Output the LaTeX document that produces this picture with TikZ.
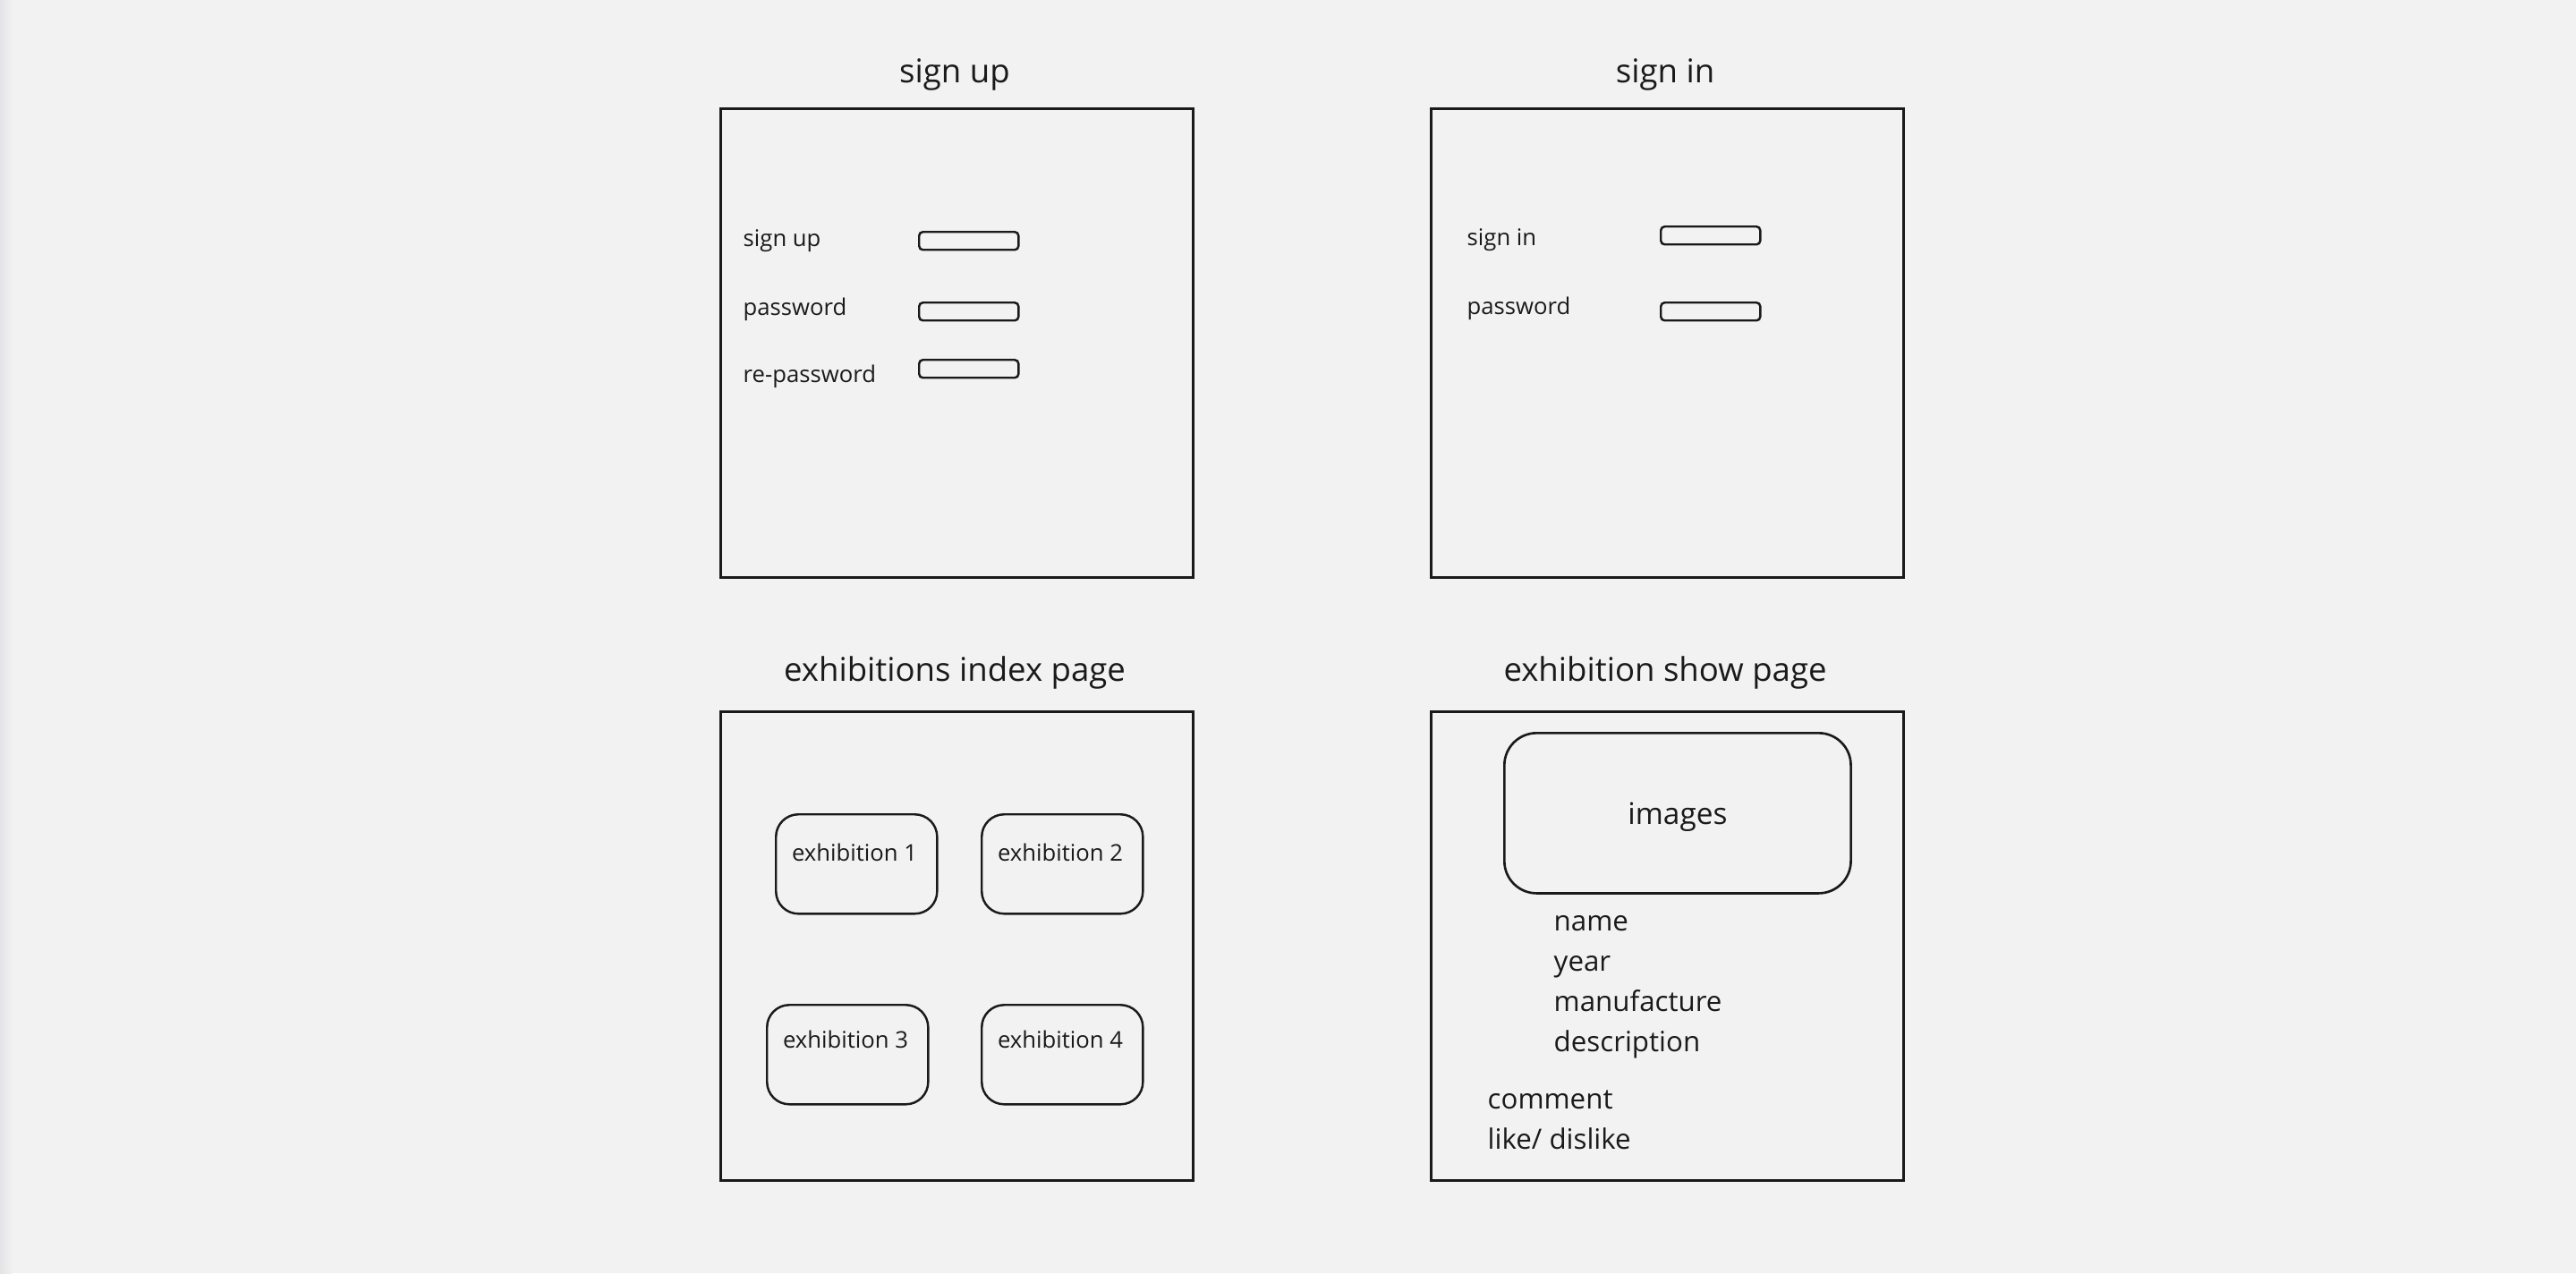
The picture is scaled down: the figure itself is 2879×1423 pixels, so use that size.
\documentclass[tikz,border=0pt]{standalone}
\usepackage{fontspec}
\setmainfont{Open Sans}
\definecolor{inkc}{HTML}{1A1A1A}
\definecolor{bgc}{HTML}{F2F2F2}
\definecolor{edgec}{HTML}{E4E4E7}
\begin{document}
\begin{tikzpicture}[x=0.01cm,y=-0.01cm,
  every node/.style={text=inkc, inner sep=0pt},
  pagebox/.style={draw=inkc, line width=0.8pt, rectangle, anchor=north west,
    minimum width=5.28cm, minimum height=5.24cm},
  field/.style={draw=inkc, line width=0.7pt, rectangle, rounded corners=1.2pt,
    anchor=north west, minimum width=1.11cm, minimum height=0.20cm},
  card/.style={draw=inkc, line width=0.7pt, rectangle, rounded corners=0.25cm,
    anchor=north west, minimum width=1.80cm, minimum height=1.11cm},
  pagetitle/.style={font=\fontsize{10.4pt}{12pt}\selectfont, anchor=base},
  formlabel/.style={font=\fontsize{7.3pt}{9pt}\selectfont, anchor=base west},
  cardlabel/.style={font=\fontsize{7.3pt}{9pt}\selectfont, anchor=base},
  detail/.style={font=\fontsize{8.9pt}{11pt}\selectfont, anchor=base west},
]
% canvas
\fill[bgc] (0,0) rectangle (2879,1423);
\shade[left color=edgec, right color=bgc] (0,0) rectangle (14,1423);
\useasboundingbox (0,0) rectangle (2879,1423);

% ---- sign up page ----
\node[pagetitle] (signupTitle) at (1067,92) {sign up};
\node[pagebox] (signupPage) at (804,120) {};
\node[formlabel] (suUser) at (830,275) {sign up};
\node[formlabel] (suPass) at (830,352) {password};
\node[formlabel] (suRepass) at (830,427) {re-password};
\node[field] (suUserField) at (1026,258) {};
\node[field] (suPassField) at (1026,337) {};
\node[field] (suRepassField) at (1026,401) {};

% ---- sign in page ----
\node[pagetitle] (signinTitle) at (1861,92) {sign in};
\node[pagebox] (signinPage) at (1598,120) {};
\node[formlabel] (siUser) at (1639,274) {sign in};
\node[formlabel] (siPass) at (1639,351) {password};
\node[field] (siUserField) at (1855,252) {};
\node[field] (siPassField) at (1855,337) {};

% ---- exhibitions index page ----
\node[pagetitle] (indexTitle) at (1067,761) {exhibitions index page};
\node[pagebox] (indexPage) at (804,794) {};
\node[card] (ex1) at (866,909) {};
\node[card] (ex2) at (1096,909) {};
\node[card] (ex3) at (856,1122) {};
\node[card] (ex4) at (1096,1122) {};
\node[cardlabel] (ex1Label) at (955,962) {exhibition 1};
\node[cardlabel] (ex2Label) at (1185,962) {exhibition 2};
\node[cardlabel] (ex3Label) at (945,1171) {exhibition 3};
\node[cardlabel] (ex4Label) at (1185,1171) {exhibition 4};

% ---- exhibition show page ----
\node[pagetitle] (showTitle) at (1861,761) {exhibition show page};
\node[pagebox] (showPage) at (1598,794) {};
\node[draw=inkc, line width=0.75pt, rectangle, rounded corners=0.36cm,
  anchor=north west, minimum width=3.87cm, minimum height=1.79cm,
  text depth=-0.05cm,
  font=\fontsize{9.5pt}{11pt}\selectfont] (images) at (1680,818) {images};
\node[detail] (name) at (1736,1040) {name};
\node[detail] (year) at (1736,1085) {year};
\node[detail] (manufacture) at (1736,1130) {manufacture};
\node[detail] (description) at (1736,1175) {description};
\node[detail] (comment) at (1662,1239) {comment};
\node[detail] (likeDislike) at (1662,1284) {like/ dislike};
\end{tikzpicture}
\end{document}
